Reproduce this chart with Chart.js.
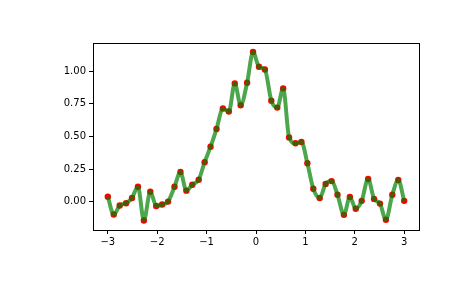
<!DOCTYPE html>
<html>
<head>
<meta charset="utf-8">
<script src="https://cdn.jsdelivr.net/npm/chart.js@4"></script>
<style>
  html, body { margin: 0; padding: 0; background: #fff; }
  #chart { display: block; }
</style>
</head>
<body>
<canvas id="chart" width="465" height="288"></canvas>
<script>
// sample positions on the x axis
const xValues = [
  -3.00, -2.88, -2.76, -2.63, -2.51, -2.39, -2.27, -2.14, -2.02, -1.90,
  -1.78, -1.65, -1.53, -1.41, -1.29, -1.16, -1.04, -0.92, -0.80, -0.67,
  -0.55, -0.43, -0.31, -0.18, -0.06, 0.06, 0.18, 0.31, 0.43, 0.55,
  0.67, 0.80, 0.92, 1.04, 1.16, 1.29, 1.41, 1.53, 1.65, 1.78,
  1.90, 2.02, 2.14, 2.27, 2.39, 2.51, 2.63, 2.76, 2.88, 3.00
];

// measured values (red dots)
const yValues = [
  0.040, -0.097, -0.028, -0.010, 0.030, 0.116, -0.142, 0.078, -0.031, -0.020,
  0.002, 0.116, 0.228, 0.086, 0.131, 0.169, 0.304, 0.422, 0.557, 0.714,
  0.691, 0.906, 0.739, 0.911, 1.146, 1.033, 1.012, 0.774, 0.721, 0.868,
  0.493, 0.448, 0.458, 0.296, 0.101, 0.030, 0.137, 0.159, 0.055, -0.099,
  0.038, -0.053, 0.008, 0.175, 0.023, -0.013, -0.137, 0.055, 0.167, 0.008
];

const xTicks = [-3, -2, -1, 0, 1, 2, 3];
const yTicks = [0, 0.25, 0.5, 0.75, 1.0];

const points = xValues.map((x, i) => ({ x: x, y: yValues[i] }));

// full box around the plot, like matplotlib spines
const frame = {
  id: "frame",
  afterDatasetsDraw(chart) {
    const a = chart.chartArea;
    const ctx = chart.ctx;
    ctx.save();
    ctx.strokeStyle = "#000";
    ctx.lineWidth = 1;
    ctx.strokeRect(Math.round(a.left) + 0.5, Math.round(a.top) + 0.5,
      Math.round(a.right - a.left), Math.round(a.bottom - a.top));
    ctx.restore();
  }
};

const tickFont = { family: "DejaVu Sans", size: 10 };

new Chart(document.getElementById("chart"), {
  type: "line",
  data: {
    datasets: [
      {
        label: "spline",
        data: points,
        borderColor: "rgba(0,128,0,0.7)",
        borderWidth: 4,
        pointRadius: 0,
        tension: 0.35,
        cubicInterpolationMode: "monotone",
        order: 0,
      },
      {
        label: "data",
        data: points,
        showLine: false,
        pointRadius: 3.2,
        pointBackgroundColor: "#ff0000",
        pointBorderColor: "#ff0000",
        pointBorderWidth: 0,
        order: 1,
      },
    ],
  },
  options: {
    responsive: false,
    animation: false,
    layout: { padding: { top: 43, right: 46, left: 0, bottom: 0 } },
    plugins: {
      legend: { display: false },
      tooltip: { enabled: false },
    },
    scales: {
      x: {
        type: "linear",
        min: -3.3,
        max: 3.3,
        afterBuildTicks: (s) => { s.ticks = xTicks.map((v) => ({ value: v })); },
        afterFit: (s) => { s.height = 58; },
        ticks: {
          color: "#000",
          font: tickFont,
          padding: 2,
          maxRotation: 0,
          callback: (v) => String(v).replace("-", "\u2212"),
        },
        grid: { drawOnChartArea: false, color: "#000", tickLength: 4, tickWidth: 1 },
        border: { color: "#000" },
      },
      y: {
        type: "linear",
        min: -0.215,
        max: 1.215,
        afterBuildTicks: (s) => { s.ticks = yTicks.map((v) => ({ value: v })); },
        afterFit: (s) => { s.width = 93; },
        ticks: {
          color: "#000",
          font: tickFont,
          padding: 3,
          callback: (v) => v.toFixed(2),
        },
        grid: { drawOnChartArea: false, color: "#000", tickLength: 4, tickWidth: 1 },
        border: { color: "#000" },
      },
    },
  },
  plugins: [frame],
});
</script>
</body>
</html>
